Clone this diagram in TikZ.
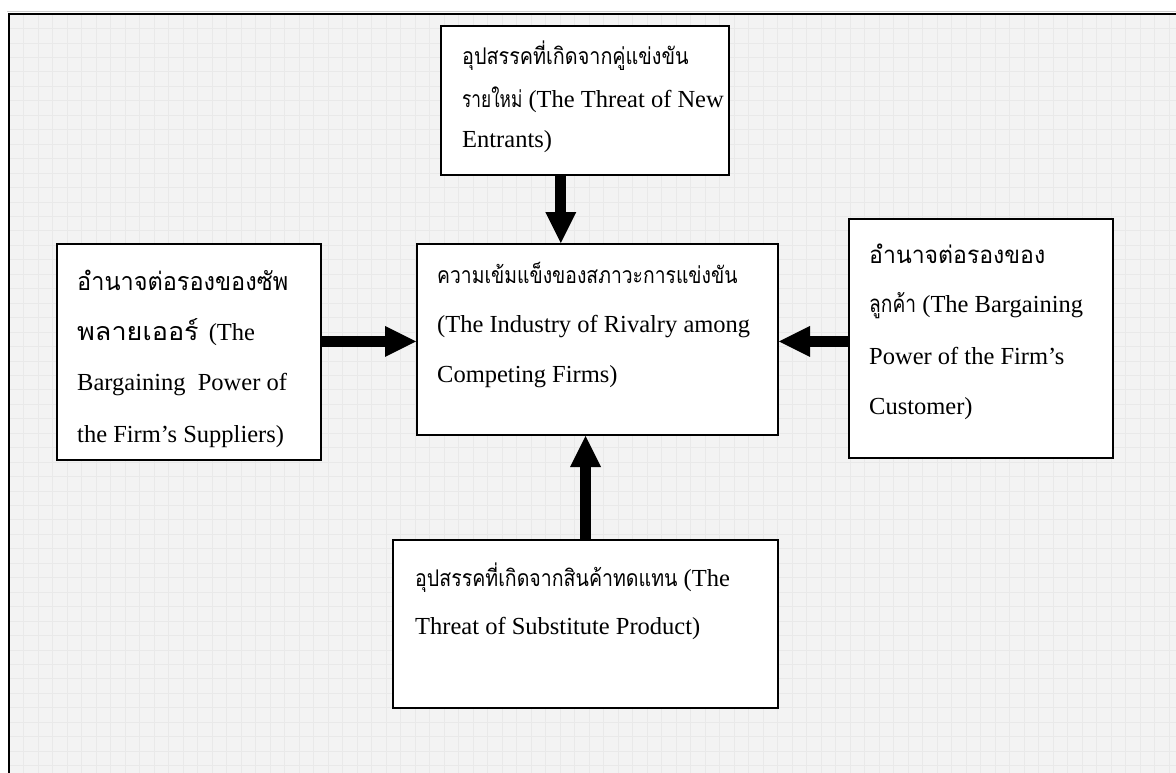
\documentclass[tikz,border=0pt]{standalone}
\usepackage{fontspec}
\setmainfont{Liberation Serif}
\newfontfamily\thai[Script=Thai]{Loma}
\newcommand\thaiat[3]{{\thai\fontsize{#1}{#1}\selectfont\addfontfeature{FakeStretch=#2}#3}}
\usetikzlibrary{arrows.meta,calc}
\definecolor{bgpaper}{HTML}{F3F3F3}
\definecolor{gridc}{HTML}{E9E9E9}
\begin{document}
\begin{tikzpicture}[x=1pt,y=-1pt,
  box/.style={draw=black,fill=white,line width=2pt,rectangle,inner sep=0pt},
  txt/.style={anchor=base west,inner sep=0pt,font=\fontsize{24.5}{24.5}\selectfont},
  gridline/.style={draw=gridc,line width=0.6pt},
  blockarrow/.style={draw=black,line width=11pt,-{Triangle[length=31pt,width=31pt,line width=0pt]}}
]
\useasboundingbox (0,0) rectangle (1176,773);
\fill[white] (0,0) rectangle (1176,773);
\fill[bgpaper] (9,14) rectangle (1176,773);
\foreach \i in {1,...,80} \draw[gridline] (9+14.5*\i,14) -- (9+14.5*\i,773);
\foreach \j in {1,...,53} \draw[gridline] (9,14+14.45*\j) -- (1176,14+14.45*\j);
\draw[line width=0.8pt,black!20] (7,11.5) -- (1180,11.5);
\draw[line width=2pt,black] (9,780) -- (9,14) -- (1180,14);

% boxes
\node[box,minimum width=288pt,minimum height=149pt] (T) at (585,100.5) {};
\node[box,minimum width=361pt,minimum height=191pt] (C) at (597.5,339.5) {};
\node[box,minimum width=264pt,minimum height=216pt] (L) at (189,352) {};
\node[box,minimum width=264pt,minimum height=239pt] (R) at (981,338.5) {};
\node[box,minimum width=385pt,minimum height=168pt] (B) at (585.5,624) {};

% texts
\node[txt] (T1) at (462,65) {\thaiat{23}{0.86}{อุปสรรคที่เกิดจากคู่แข่งขัน}};
\node[txt] (T2) at (462,108) {\thaiat{23}{0.75}{รายใหม่} (The Threat of New};
\node[txt] (T3) at (462,148) {Entrants)};

\node[txt] (C1) at (437,283) {\thaiat{23}{0.84}{ความเข้มแข็งของสภาวะการแข่งขัน}};
\node[txt] (C2) at (437,332) {(The Industry of Rivalry among};
\node[txt] (C3) at (437,382) {Competing Firms)};

\node[txt] (L1) at (77,290) {\thaiat{25}{0.94}{อำนาจต่อรองของซัพ}};
\node[txt] (L2) at (77,340) {\thaiat{25}{1.08}{พลายเออร์}\hspace{4pt} (The};
\node[txt] (L3) at (77,390) {Bargaining\ \ Power of};
\node[txt] (L4) at (77,442) {the Firm’s Suppliers)};

\node[txt] (R1) at (869,263) {\thaiat{24}{0.96}{อำนาจต่อรองของ}};
\node[txt] (R2) at (869,312) {\thaiat{24}{0.8}{ลูกค้า} (The Bargaining};
\node[txt] (R3) at (869,364) {Power of the Firm’s};
\node[txt] (R4) at (869,414) {Customer)};

\node[txt] (B1) at (415,586) {\thaiat{23}{0.85}{อุปสรรคที่เกิดจากสินค้าทดแทน} (The};
\node[txt] (B2) at (415,634) {Threat of Substitute Product)};

% arrows
\coordinate (aL) at ($(C.north west)!0.51!(C.south west)$);
\coordinate (aR) at ($(C.north east)!0.51!(C.south east)$);
\coordinate (aT) at ($(T.south west)!0.4167!(T.south east)$);
\draw[blockarrow] (L.east |- aL) -- (aL);
\draw[blockarrow] (R.west |- aR) -- (aR);
\draw[blockarrow] (aT) -- (aT |- C.north);
\draw[blockarrow] (B.north) -- (B.north |- C.south);
\end{tikzpicture}
\end{document}
